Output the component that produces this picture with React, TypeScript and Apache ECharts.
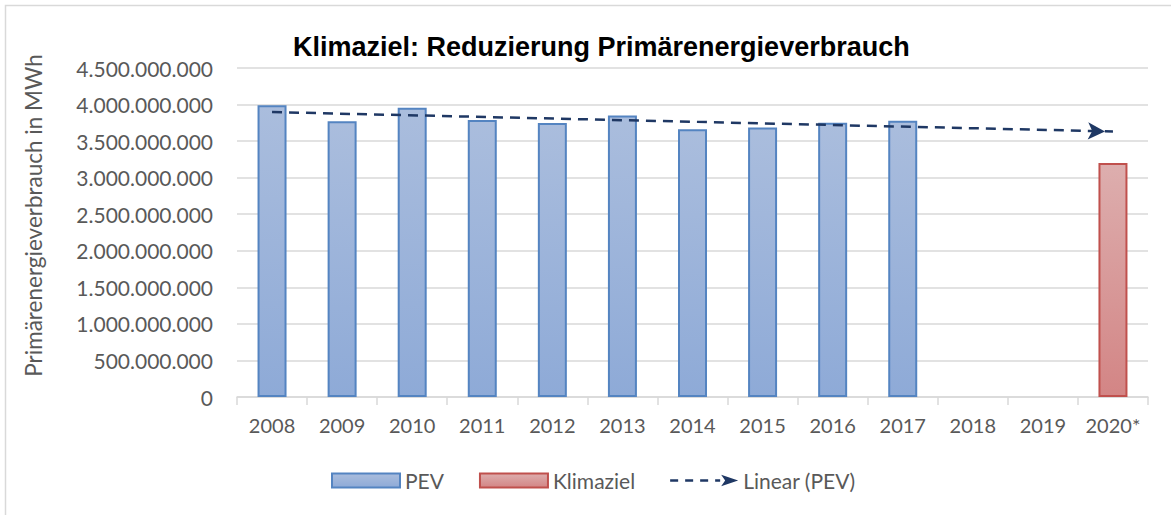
import React, { useEffect, useRef } from "react";
import * as echarts from "echarts";

const categories = ["2008", "2009", "2010", "2011", "2012", "2013", "2014", "2015", "2016", "2017", "2018", "2019", "2020*"];
const pevValues: (number | null)[] = [3990000000, 3770000000, 3957000000, 3788000000, 3747000000, 3852000000, 3662000000, 3685000000, 3750000000, 3778000000, null, null, null];
const klimazielValues: (number | null)[] = [null, null, null, null, null, null, null, null, null, null, null, null, 3200000000];
const trendStart = 3897000000;
const trendEnd = 3632000000;
const yTicks = { min: 0, max: 4500000000, interval: 500000000 };

const fmt = (v: number) => String(Math.round(v)).replace(/\B(?=(\d{3})+(?!\d))/g, ".");

export default function App() {
  const ref = useRef<HTMLDivElement>(null);
  useEffect(() => {
    document.body.style.margin = "0";
    const chart = echarts.init(ref.current!, undefined, { renderer: "svg" });
    const trendData: any[] = categories.map((_, i) => {
      if (i === 0) return trendStart;
      if (i === categories.length - 1)
        return { value: trendEnd, symbol: "arrow", symbolSize: [13, 17], symbolRotate: -92, symbolOffset: [-8, 0] };
      return null;
    });
    const labelColor = "#595959";
    const font = "Lato";
    chart.setOption({
      animation: false,
      backgroundColor: "#fff",
      graphic: [
        {
          type: "rect",
          shape: { x: 5.5, y: 5.5, width: 1180, height: 530 },
          style: { fill: "none", stroke: "#d9d9d9", lineWidth: 1.5 },
          silent: true,
        },
      ],
      title: {
        text: "Klimaziel: Reduzierung Primärenergieverbrauch",
        left: 288,
        top: 28,
        textStyle: { fontFamily: "Liberation Sans", fontWeight: "bold", fontSize: 27, color: "#000" },
      },
      legend: {
        left: 326,
        top: 465,
        itemWidth: 68,
        itemHeight: 14,
        itemGap: 35,
        textStyle: { fontFamily: font, fontSize: 21, color: labelColor },
        data: [
          { name: "PEV", icon: "rect" },
          { name: "Klimaziel", icon: "rect" },
          {
            name: "Linear (PEV)",
            icon: "path://M0,5.5L8,5.5L8,8L0,8ZM15,5.5L23,5.5L23,8L15,8ZM30,5.5L38,5.5L38,8L30,8ZM45,5.5L50,5.5L50,8L45,8ZM51,1L68,6.75L51,12.5L55,6.75Z",
            itemStyle: { borderWidth: 0, color: "#1f3864" },
          },
        ],
      },
      grid: { left: 237, right: 23, top: 68, bottom: 118 },
      xAxis: {
        type: "category",
        data: categories,
        axisLine: { lineStyle: { color: "#d9d9d9", width: 1.5 } },
        axisTick: { show: true, length: 8, lineStyle: { color: "#d9d9d9", width: 1.5 } },
        axisLabel: { color: labelColor, fontFamily: font, fontSize: 20, margin: 18, interval: 0 },
      },
      yAxis: {
        type: "value",
        min: yTicks.min,
        max: yTicks.max,
        interval: yTicks.interval,
        name: "Primärenergieverbrauch in MWh",
        nameLocation: "middle",
        nameRotate: 90,
        nameGap: 192,
        nameTextStyle: { color: labelColor, fontFamily: font, fontSize: 22.5, padding: [0, 0, 0, 34] },
        axisLine: { show: false },
        axisTick: { show: false },
        splitLine: { lineStyle: { color: "#d9d9d9", width: 1.5 } },
        axisLabel: { color: labelColor, fontFamily: font, fontSize: 21, margin: 24, formatter: (v: number) => fmt(v) },
      },
      series: [
        {
          name: "PEV",
          type: "bar",
          data: pevValues,
          barWidth: 29,
          barGap: "-100%",
          itemStyle: {
            color: new echarts.graphic.LinearGradient(0, 0, 0, 1, [
              { offset: 0, color: "#aabddd" },
              { offset: 1, color: "#8eaad7" },
            ]),
            borderColor: "#5484c1",
            borderWidth: 2,
          },
        },
        {
          name: "Klimaziel",
          type: "bar",
          data: klimazielValues,
          barWidth: 29,
          barGap: "-100%",
          itemStyle: {
            color: new echarts.graphic.LinearGradient(0, 0, 0, 1, [
              { offset: 0, color: "#ddaeae" },
              { offset: 1, color: "#d38585" },
            ]),
            borderColor: "#c0504d",
            borderWidth: 2,
          },
        },
        {
          name: "Linear (PEV)",
          type: "line",
          data: trendData,
          connectNulls: true,
          symbol: "none",
          itemStyle: { color: "#1f3864", borderWidth: 0 },
          lineStyle: { color: "#1f3864", width: 2.5, type: [10, 7] },
          z: 5,
        },
      ],
    });
    return () => chart.dispose();
  }, []);
  return <div ref={ref} style={{ width: 1171, height: 515 }} />;
}
